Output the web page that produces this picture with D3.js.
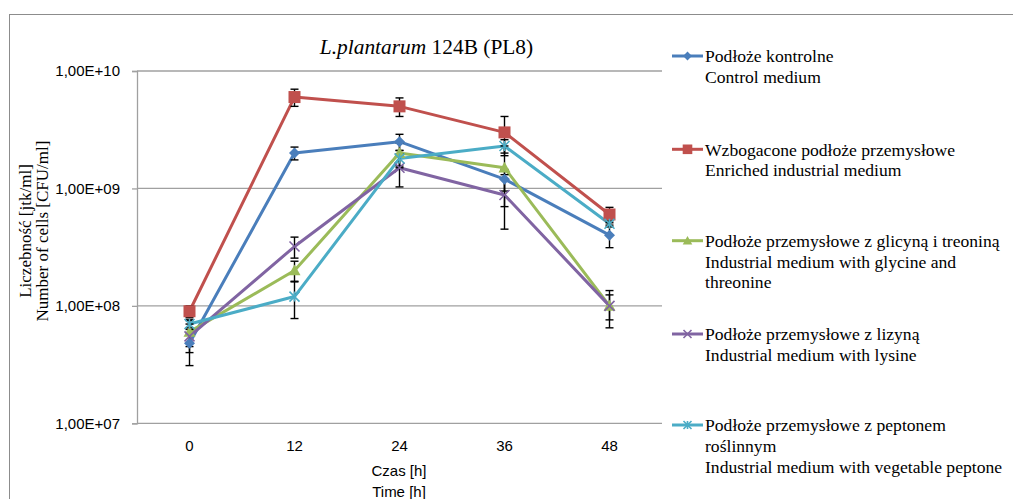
<!DOCTYPE html>
<html><head><meta charset="utf-8">
<script src="https://cdn.jsdelivr.net/npm/d3@7"></script>
<style>
html,body{margin:0;padding:0;background:#fff;}
svg{display:block;}
</style></head>
<body>
<svg id="chart" width="1013" height="499"></svg>
<script>
// ---- data ----
const times = ["0", "12", "24", "36", "48"];
const yTicks = [1e7, 1e8, 1e9, 1e10];
const yTickLabels = ["1,00E+07", "1,00E+08", "1,00E+09", "1,00E+10"];

const controlValues   = [4.8e7, 2.0e9, 2.5e9, 1.2e9, 4.0e8];
const controlErrors   = [1.7e7, 0.25e9, 0.39e9, 0.25e9, 0.87e8];
const enrichedValues  = [9.0e7, 6.0e9, 5.0e9, 3.0e9, 6.0e8];
const enrichedErrors  = [1.0e7, 1.0e9, 0.9e9, 1.1e9, 0.9e8];
const glycineValues   = [6.0e7, 2.0e8, 2.0e9, 1.5e9, 1.0e8];
const glycineErrors   = [1.5e7, 0.4e8, 0.45e9, 0.8e9, 0.35e8];
const lysineValues    = [5.5e7, 3.2e8, 1.5e9, 8.8e8, 1.0e8];
const lysineErrors    = [1.5e7, 0.65e8, 0.47e9, 0.43e9, 0.24e8];
const peptoneValues   = [7.0e7, 1.2e8, 1.8e9, 2.3e9, 5.0e8];
const peptoneErrors   = [0.7e7, 0.42e8, 0.3e9, 0.3e9, 0.3e8];

const seriesNames = [
  ["Podłoże kontrolne", "Control medium"],
  ["Wzbogacone podłoże przemysłowe", "Enriched industrial medium"],
  ["Podłoże przemysłowe z glicyną i treoniną", "Industrial medium with glycine and", "threonine"],
  ["Podłoże przemysłowe z lizyną", "Industrial medium with lysine"],
  ["Podłoże przemysłowe z peptonem", "roślinnym", "Industrial medium with vegetable peptone"]
];
const seriesColors = ["#4A7EBB", "#C0504D", "#9BBB59", "#8064A2", "#4BACC6"];
const seriesMarkers = ["diamond", "square", "triangle", "cross", "asterisk"];

const series = [
  {values: controlValues, errors: controlErrors},
  {values: enrichedValues, errors: enrichedErrors},
  {values: glycineValues, errors: glycineErrors},
  {values: lysineValues, errors: lysineErrors},
  {values: peptoneValues, errors: peptoneErrors}
].map((s, i) => ({...s, names: seriesNames[i], color: seriesColors[i], marker: seriesMarkers[i]}));

// ---- layout ----
const svg = d3.select("#chart");
const plot = {left: 137, right: 662, top: 71, bottom: 423.3};
const serif = "'Liberation Serif', 'Times New Roman', serif";
const sans = "'Liberation Sans', Arial, sans-serif";

// outer frame
svg.append("rect").attr("x", 9.5).attr("y", 14.5).attr("width", 1013).attr("height", 520)
  .attr("fill", "none").attr("stroke", "#8c8c8c").attr("stroke-width", 1);

const x = d3.scaleBand().domain(times).range([plot.left, plot.right]);
const y = d3.scaleLog().domain([1e7, 1e10]).range([plot.bottom, plot.top]);
const cx = t => x(t) + x.bandwidth() / 2;

// gridlines
svg.append("g").selectAll("line").data(yTicks).join("line")
  .attr("x1", plot.left).attr("x2", plot.right)
  .attr("y1", d => y(d)).attr("y2", d => y(d))
  .attr("stroke", "#a0a0a0").attr("stroke-width", 1.3);

// y axis
const yAxis = d3.axisLeft(y).tickValues(yTicks)
  .tickFormat((d, i) => yTickLabels[i]).tickSize(5).tickPadding(12);
const yg = svg.append("g").attr("transform", `translate(${plot.left},0)`).call(yAxis);
yg.select(".domain").attr("stroke", "#a0a0a0").attr("stroke-width", 1.3);
yg.selectAll(".tick line").attr("stroke", "#a0a0a0").attr("stroke-width", 1.3);
yg.selectAll(".tick text").attr("font-family", sans).attr("font-size", 15).attr("fill", "#000");

// x axis (labels only)
const xAxis = d3.axisBottom(x).tickSize(0).tickPadding(17);
const xg = svg.append("g").attr("transform", `translate(0,${plot.bottom})`).call(xAxis);
xg.select(".domain").remove();
xg.selectAll(".tick text").attr("font-family", sans).attr("font-size", 15).attr("fill", "#000");

// axis titles
svg.append("text").attr("x", 399).attr("y", 476).attr("text-anchor", "middle")
  .attr("font-family", sans).attr("font-size", 15).text("Czas [h]");
svg.append("text").attr("x", 399).attr("y", 497).attr("text-anchor", "middle")
  .attr("font-family", sans).attr("font-size", 15).text("Time [h]");

const yt = svg.append("text").attr("transform", "translate(30.5,231) rotate(-90)")
  .attr("text-anchor", "middle").attr("font-family", serif).attr("font-size", 17);
yt.append("tspan").attr("x", 0).attr("dy", 0).text("Liczebność [jtk/ml]");
yt.append("tspan").attr("x", 0).attr("dy", 17.7).text("Number of cells [CFU/ml]");

// title
const title = svg.append("text").attr("x", 426.5).attr("y", 53.5).attr("text-anchor", "middle")
  .attr("font-family", serif).attr("font-size", 21.4);
title.append("tspan").attr("font-style", "italic").text("L.plantarum");
title.append("tspan").text(" 124B (PL8)");

// marker drawing
function drawMarker(g, type, color, px, py, s) {
  if (type === "diamond") {
    g.append("path").attr("d", `M${px},${py - s}L${px + s},${py}L${px},${py + s}L${px - s},${py}Z`).attr("fill", color);
  } else if (type === "square") {
    g.append("rect").attr("x", px - s).attr("y", py - s).attr("width", 2 * s).attr("height", 2 * s).attr("fill", color);
  } else if (type === "triangle") {
    g.append("path").attr("d", `M${px},${py - s}L${px + s},${py + s * 0.8}L${px - s},${py + s * 0.8}Z`).attr("fill", color);
  } else if (type === "cross") {
    g.append("path").attr("d", `M${px - s},${py - s}L${px + s},${py + s}M${px - s},${py + s}L${px + s},${py - s}`)
      .attr("stroke", color).attr("stroke-width", 1.6).attr("fill", "none");
  } else if (type === "asterisk") {
    g.append("path").attr("d", `M${px - s},${py - s}L${px + s},${py + s}M${px - s},${py + s}L${px + s},${py - s}M${px},${py - s}L${px},${py + s}`)
      .attr("stroke", color).attr("stroke-width", 1.6).attr("fill", "none");
  }
}
const markerSize = {diamond: 5.5, square: 6, triangle: 6, cross: 5, asterisk: 5};

const line = d3.line().x((d, i) => cx(times[i])).y(d => y(d));

// lines
series.forEach(s => {
  svg.append("path").datum(s.values).attr("d", line)
    .attr("fill", "none").attr("stroke", s.color).attr("stroke-width", 3).attr("stroke-linejoin", "round");
});

// error bars
const eg = svg.append("g").attr("stroke", "#000").attr("stroke-width", 1.4);
series.forEach(s => {
  s.values.forEach((v, i) => {
    const px = cx(times[i]);
    const hi = y(v + s.errors[i]), lo = y(v - s.errors[i]);
    eg.append("line").attr("x1", px).attr("x2", px).attr("y1", hi).attr("y2", lo);
    eg.append("line").attr("x1", px - 4).attr("x2", px + 4).attr("y1", hi).attr("y2", hi);
    eg.append("line").attr("x1", px - 4).attr("x2", px + 4).attr("y1", lo).attr("y2", lo);
  });
});

// markers
series.forEach(s => {
  const mg = svg.append("g");
  s.values.forEach((v, i) => drawMarker(mg, s.marker, s.color, cx(times[i]), y(v), markerSize[s.marker]));
});

// legend
const legendY = [56, 149.3, 240.7, 334, 425];
const lg = svg.append("g");
series.forEach((s, k) => {
  const ly = legendY[k];
  lg.append("line").attr("x1", 672).attr("x2", 703).attr("y1", ly).attr("y2", ly)
    .attr("stroke", s.color).attr("stroke-width", 3);
  drawMarker(lg, s.marker, s.color, 687.5, ly, markerSize[s.marker] * 0.8);
  const t = lg.append("text").attr("font-family", serif).attr("font-size", 17.6).attr("fill", "#000");
  s.names.forEach((nm, j) => {
    t.append("tspan").attr("x", 705).attr("y", ly + 6.2 + j * 20.7).text(nm);
  });
});
</script>
</body></html>
